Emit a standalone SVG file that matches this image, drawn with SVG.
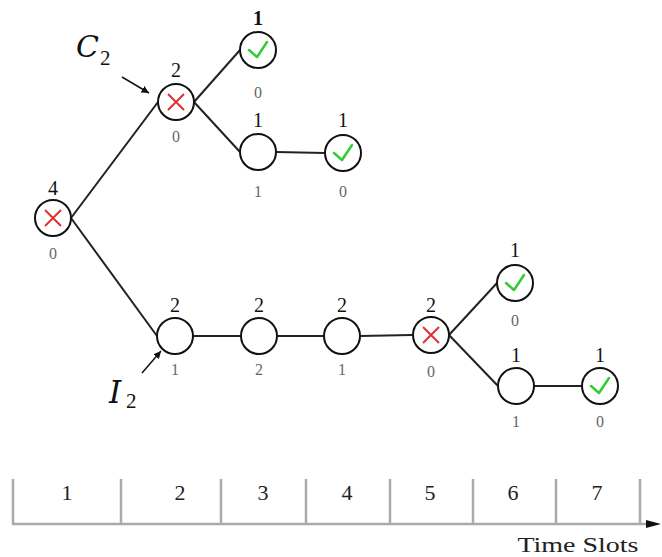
<svg xmlns="http://www.w3.org/2000/svg" width="662" height="557" viewBox="0 0 662 557">
<defs>
<style>
.n{fill:#fff;stroke:#111;stroke-width:2}
.e{stroke:#222;stroke-width:2;fill:none}
.t{font-family:"Liberation Serif","DejaVu Serif",serif;font-size:20px;fill:#111;text-anchor:middle}
.b{font-family:"Liberation Serif","DejaVu Serif",serif;font-size:16px;fill:#666;text-anchor:middle}
.s{font-family:"Liberation Serif","DejaVu Serif",serif;font-size:22px;fill:#222;text-anchor:middle}
.x{stroke:#e03030;stroke-width:2;fill:none}
.c{stroke:#33cc33;stroke-width:2.5;fill:none;stroke-linecap:round;stroke-linejoin:round}
.k{stroke:#aaa;stroke-width:2.5}
.cal{font-family:"DejaVu Serif","Liberation Serif",serif;font-style:italic;fill:#111}
.sub{font-family:"Liberation Serif","DejaVu Serif",serif;font-style:normal;fill:#111;font-size:21px}
</style>
<marker id="ah" viewBox="0 0 10 10" refX="10" refY="5" markerWidth="5" markerHeight="5" orient="auto" markerUnits="strokeWidth">
<path d="M0,0 L10,5 L0,10 Z" fill="#111"/>
</marker>
<g id="xm"><path class="x" d="M-8,-8 L8,8 M8,-8 L-8,8"/></g>
<g id="cm"><path class="c" d="M-9,0 L-1,7 L9,-8"/></g>
</defs>

<g id="connectors">
<line class="e" x1="71" y1="218" x2="158" y2="102"/>
<line class="e" x1="71" y1="218" x2="157" y2="336"/>
<line class="e" x1="194" y1="102" x2="240" y2="50"/>
<line class="e" x1="194" y1="102" x2="240" y2="152"/>
<line class="e" x1="276" y1="152" x2="325" y2="153"/>
<line class="e" x1="193" y1="336" x2="241" y2="336"/>
<line class="e" x1="277" y1="336" x2="324" y2="336"/>
<line class="e" x1="360" y1="336" x2="412" y2="335"/>
<line class="e" x1="449" y1="335" x2="497" y2="283"/>
<line class="e" x1="449" y1="335" x2="498" y2="386"/>
<line class="e" x1="534" y1="386" x2="582" y2="386"/>
<line stroke="#111" stroke-width="1.5" x1="122" y1="77" x2="149" y2="93" marker-end="url(#ah)"/>
<line stroke="#111" stroke-width="1.5" x1="142" y1="373" x2="161" y2="351" marker-end="url(#ah)"/>
</g>

<g id="root"><circle class="n" cx="53" cy="218" r="18"/><use href="#xm" x="53" y="218"/><text class="t" x="53" y="195">4</text><text class="b" x="53" y="259">0</text></g>
<g id="c2node"><circle class="n" cx="176" cy="102" r="18"/><use href="#xm" x="176" y="102"/><text class="t" x="176" y="77">2</text><text class="b" x="176" y="142">0</text></g>
<g id="n_top"><circle class="n" cx="258" cy="50" r="18"/><use href="#cm" x="258" y="50"/><text class="t" x="258" y="25" font-weight="bold">1</text><text class="b" x="258" y="98">0</text></g>
<g id="n_mid"><circle class="n" cx="258" cy="152" r="18"/><text class="t" x="258" y="127">1</text><text class="b" x="258" y="197">1</text></g>
<g id="n_midc"><circle class="n" cx="343" cy="153" r="18"/><use href="#cm" x="343" y="153"/><text class="t" x="343" y="127">1</text><text class="b" x="343" y="197">0</text></g>
<g id="i2node"><circle class="n" cx="175" cy="336" r="18"/><text class="t" x="175" y="312">2</text><text class="b" x="175" y="375">1</text></g>
<g id="n_r2"><circle class="n" cx="259" cy="336" r="18"/><text class="t" x="259" y="312">2</text><text class="b" x="259" y="375">2</text></g>
<g id="n_r3"><circle class="n" cx="342" cy="336" r="18"/><text class="t" x="342" y="312">2</text><text class="b" x="342" y="375">1</text></g>
<g id="n_r4"><circle class="n" cx="431" cy="335" r="18"/><use href="#xm" x="431" y="335"/><text class="t" x="431" y="312">2</text><text class="b" x="431" y="377">0</text></g>
<g id="n_r5"><circle class="n" cx="515" cy="283" r="18"/><use href="#cm" x="515" y="283"/><text class="t" x="515" y="257">1</text><text class="b" x="515" y="326">0</text></g>
<g id="n_r6"><circle class="n" cx="516" cy="386" r="18"/><text class="t" x="516" y="362">1</text><text class="b" x="516" y="427">1</text></g>
<g id="n_r7"><circle class="n" cx="600" cy="386" r="18"/><use href="#cm" x="600" y="386"/><text class="t" x="600" y="362">1</text><text class="b" x="600" y="427">0</text></g>

<g id="label_c2"><text class="cal" x="76" y="57" font-size="30">C</text><text class="sub" x="100" y="65">2</text></g>
<g id="label_i2"><text class="cal" x="115" y="403" font-size="31" text-anchor="middle">I</text><text class="sub" x="126" y="408">2</text></g>

<g id="timeline">
<line class="k" x1="12" y1="524" x2="652" y2="524"/>
<path d="M646,520 L661,524 L646,528 Z" fill="#111"/>
<line class="k" x1="13" y1="479" x2="13" y2="524"/>
<line class="k" x1="121" y1="479" x2="121" y2="524"/>
<line class="k" x1="221" y1="479" x2="221" y2="524"/>
<line class="k" x1="306" y1="479" x2="306" y2="524"/>
<line class="k" x1="390" y1="479" x2="390" y2="524"/>
<line class="k" x1="473" y1="479" x2="473" y2="524"/>
<line class="k" x1="556" y1="479" x2="556" y2="524"/>
<line class="k" x1="640" y1="479" x2="640" y2="524"/>
<text class="s" x="67" y="500">1</text>
<text class="s" x="180" y="500">2</text>
<text class="s" x="263" y="500">3</text>
<text class="s" x="347" y="500">4</text>
<text class="s" x="430" y="500">5</text>
<text class="s" x="513" y="500">6</text>
<text class="s" x="597" y="500">7</text>
<text class="s" x="578" y="552" font-size="21" textLength="121" lengthAdjust="spacingAndGlyphs">Time Slots</text>
</g>
</svg>
